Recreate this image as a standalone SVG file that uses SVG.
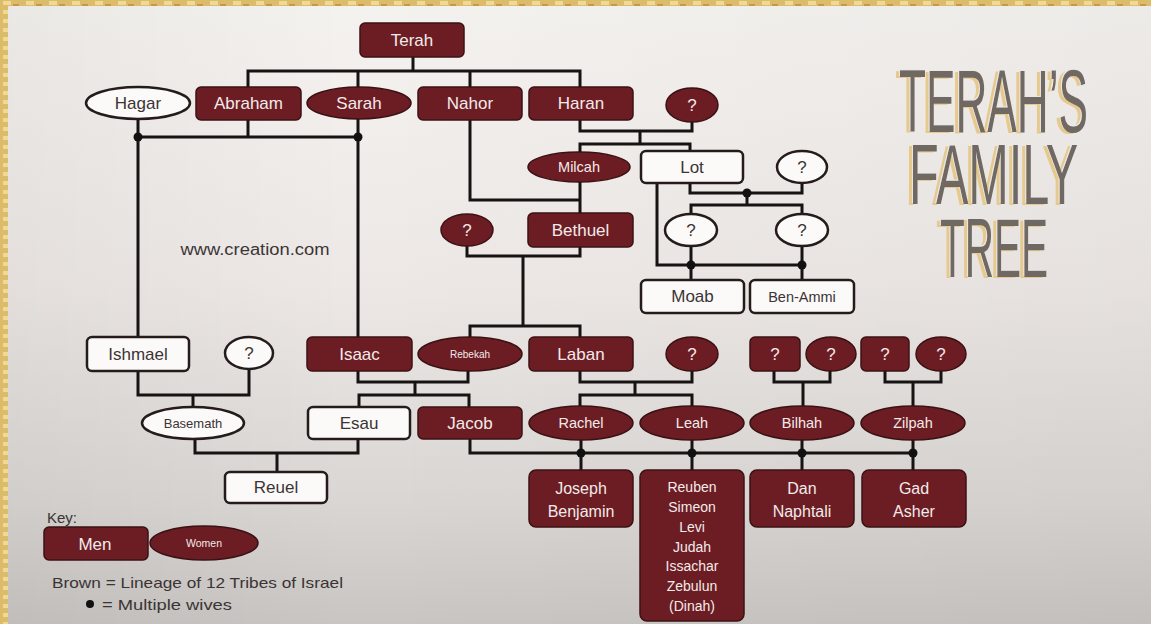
<svg xmlns="http://www.w3.org/2000/svg" width="1151" height="624" viewBox="0 0 1151 624">
<defs>
<pattern id="goldp" width="23" height="9" patternUnits="userSpaceOnUse">
<rect width="23" height="9" fill="#dcbc6a"/><rect x="3" y="1" width="8" height="4" fill="#efd996"/><rect x="13" y="4" width="6" height="4" fill="#c49a44"/>
</pattern>
<linearGradient id="panel" x1="0" y1="0" x2="0" y2="1">
<stop offset="0" stop-color="#f4f2ef"/><stop offset="0.45" stop-color="#ede8e5"/><stop offset="0.8" stop-color="#d9d6d3"/><stop offset="1" stop-color="#c8c5c2"/>
</linearGradient>
<linearGradient id="panelx" x1="0" y1="0" x2="1" y2="0">
<stop offset="0" stop-color="#000" stop-opacity="0.04"/><stop offset="0.3" stop-color="#000" stop-opacity="0"/><stop offset="1" stop-color="#000" stop-opacity="0.03"/>
</linearGradient>
<filter id="deco" x="-10%" y="-20%" width="120%" height="140%">
<feOffset in="SourceAlpha" dx="-4" dy="1" result="o1"/>
<feFlood flood-color="#e6c98c"/>
<feComposite in2="o1" operator="in" result="gold"/>
<feOffset in="SourceAlpha" dx="-1.5" dy="-1" result="o2"/>
<feFlood flood-color="#ebe8e4"/>
<feComposite in2="o2" operator="in" result="light"/>
<feMerge><feMergeNode in="gold"/><feMergeNode in="light"/><feMergeNode in="SourceGraphic"/></feMerge>
</filter>
<style>
.m{fill:#6c1d23;stroke:#3b1214;stroke-width:1.5}
.w{fill:#fbfaf9;stroke:#241c1a;stroke-width:2.5}
.ln path{stroke:#171313;stroke-width:3;fill:none;stroke-linecap:square}
.ln circle{fill:#111}
text{font-family:"Liberation Sans",Arial,sans-serif;text-anchor:middle;dominant-baseline:central}
.tl{fill:#f3eaea;font-size:17px}
.td{fill:#3b3434;font-size:17px}
.s14{font-size:14.5px}
.s13{font-size:13px}
.s10{font-size:10px}
.f16{font-size:16px}
.f14{font-size:14px}
.f11{font-size:10.5px}
.lg{fill:#3a3434;text-anchor:start;font-size:15px}
.ti{text-anchor:start;dominant-baseline:alphabetic;fill:#6f6864;filter:url(#deco)}
</style>
</defs>

<!-- background -->
<rect x="0" y="0" width="1151" height="624" fill="url(#goldp)"/>
<rect x="8" y="6" width="1143" height="618" fill="url(#panel)"/>
<rect x="8" y="6" width="1143" height="618" fill="url(#panelx)"/>

<!-- title -->
<g id="title">
<text class="ti" x="899" y="132" font-size="89" textLength="189" lengthAdjust="spacingAndGlyphs">TERAH’S</text>
<text class="ti" x="909" y="204" font-size="85" textLength="169" lengthAdjust="spacingAndGlyphs">FAMILY</text>
<text class="ti" x="940" y="277" font-size="84" textLength="108" lengthAdjust="spacingAndGlyphs">TREE</text>
</g>

<!-- connectors -->
<g id="connectors" class="ln">
<path d="M413 57V71M248 71H580M248 71V87M358 71V87M470 71V87M580 71V87"/>
<path d="M138 119V337M248 120V137M138 137H358M358 119V337"/>
<path d="M580 120V131H692V122M640 131V144M580 144H690M580 144V152M690 144V151"/>
<path d="M470 120V200H580M580 182V213"/>
<path d="M690 183V193H802V183M747 193V205M691 205H802M691 205V214M802 205V214"/>
<path d="M657 183V265H802M691 246V280M802 246V280"/>
<path d="M467 246V256H580V247M523 256V326M470 326H580M470 326V337M580 326V337"/>
<path d="M138 371V395H249V369M193 395V407"/>
<path d="M358 371V382H468V371M415 382V395M359 395H469M359 395V407M469 395V407"/>
<path d="M195 439V453H358V439M277 453V472"/>
<path d="M580 371V382H692V371M635 382V395M580 395H692M580 395V406M692 395V406"/>
<path d="M774 371V382H830V371M803 382V406"/>
<path d="M885 371V382H941V371M913 382V406"/>
<path d="M470 439V453H913M581 440V470M692 440V470M802 440V470M913 440V470"/>
<circle cx="138" cy="137" r="4.5"/><circle cx="358" cy="137" r="4.5"/>
<circle cx="747" cy="193" r="4.5"/>
<circle cx="691" cy="265" r="4.5"/><circle cx="802" cy="265" r="4.5"/>
<circle cx="581" cy="453" r="4.5"/><circle cx="692" cy="453" r="4.5"/><circle cx="802" cy="453" r="4.5"/><circle cx="913" cy="453" r="4.5"/>
</g>

<!-- nodes -->
<g id="terah"><rect class="m" x="360" y="23" width="104" height="34" rx="5"/><text class="tl" x="412" y="40">Terah</text></g>
<g id="hagar"><ellipse class="w" cx="138" cy="103" rx="52" ry="16"/><text class="td" x="138" y="103">Hagar</text></g>
<g id="abraham"><rect class="m" x="196" y="87" width="105" height="33" rx="5"/><text class="tl" x="248.5" y="103.5">Abraham</text></g>
<g id="sarah"><ellipse class="m" cx="359" cy="103" rx="52" ry="16"/><text class="tl" x="359" y="103">Sarah</text></g>
<g id="nahor"><rect class="m" x="418" y="87" width="104" height="33" rx="5"/><text class="tl" x="470" y="103.5">Nahor</text></g>
<g id="haran"><rect class="m" x="529" y="87" width="104" height="33" rx="5"/><text class="tl" x="581" y="103.5">Haran</text></g>
<g id="haran-wife"><ellipse class="m" cx="692" cy="105" rx="26" ry="17"/><text class="tl" x="692" y="105">?</text></g>
<g id="milcah"><ellipse class="m" cx="579" cy="167" rx="51" ry="15"/><text class="tl s14" x="579" y="167">Milcah</text></g>
<g id="lot"><rect class="w" x="641" y="151" width="102" height="32" rx="5"/><text class="td" x="692" y="167">Lot</text></g>
<g id="lot-wife"><ellipse class="w" cx="802" cy="167" rx="25" ry="16"/><text class="td" x="802" y="167">?</text></g>
<g id="lot-daughter1"><ellipse class="w" cx="691" cy="230" rx="26" ry="16"/><text class="td" x="691" y="230">?</text></g>
<g id="lot-daughter2"><ellipse class="w" cx="802" cy="230" rx="26" ry="16"/><text class="td" x="802" y="230">?</text></g>
<g id="bethuel-wife"><ellipse class="m" cx="467" cy="230" rx="26" ry="16"/><text class="tl" x="467" y="230">?</text></g>
<g id="bethuel"><rect class="m" x="528" y="213" width="105" height="34" rx="5"/><text class="tl" x="580.5" y="230">Bethuel</text></g>
<g id="moab"><rect class="w" x="641" y="280" width="103" height="33" rx="5"/><text class="td" x="692.5" y="296.5">Moab</text></g>
<g id="ben-ammi"><rect class="w" x="750" y="280" width="104" height="33" rx="5"/><text class="td s14" x="802" y="296.5">Ben-Ammi</text></g>
<g id="ishmael"><rect class="w" x="87" y="337" width="102" height="34" rx="5"/><text class="td" x="138" y="354">Ishmael</text></g>
<g id="ishmael-wife"><ellipse class="w" cx="249" cy="353" rx="24" ry="16"/><text class="td" x="249" y="353">?</text></g>
<g id="isaac"><rect class="m" x="307" y="337" width="105" height="34" rx="5"/><text class="tl" x="359.5" y="354">Isaac</text></g>
<g id="rebekah"><ellipse class="m" cx="470" cy="354" rx="52" ry="17"/><text class="tl s10" x="470" y="354">Rebekah</text></g>
<g id="laban"><rect class="m" x="529" y="337" width="104" height="34" rx="5"/><text class="tl" x="581" y="354">Laban</text></g>
<g id="laban-wife"><ellipse class="m" cx="692" cy="354" rx="26" ry="17"/><text class="tl" x="692" y="354">?</text></g>
<g id="bilhah-father"><rect class="m" x="750" y="337" width="50" height="34" rx="5"/><text class="tl" x="775" y="354">?</text></g>
<g id="bilhah-mother"><ellipse class="m" cx="831" cy="354" rx="25" ry="17"/><text class="tl" x="831" y="354">?</text></g>
<g id="zilpah-father"><rect class="m" x="861" y="337" width="48" height="34" rx="5"/><text class="tl" x="885" y="354">?</text></g>
<g id="zilpah-mother"><ellipse class="m" cx="941" cy="354" rx="25" ry="17"/><text class="tl" x="941" y="354">?</text></g>
<g id="basemath"><ellipse class="w" cx="193" cy="423" rx="51" ry="16"/><text class="td s13" x="193" y="423">Basemath</text></g>
<g id="esau"><rect class="w" x="308" y="407" width="102" height="32" rx="5"/><text class="td" x="359" y="423">Esau</text></g>
<g id="jacob"><rect class="m" x="418" y="407" width="104" height="32" rx="5"/><text class="tl" x="470" y="423">Jacob</text></g>
<g id="rachel"><ellipse class="m" cx="581" cy="423" rx="52" ry="17"/><text class="tl s14" x="581" y="423">Rachel</text></g>
<g id="leah"><ellipse class="m" cx="692" cy="423" rx="52" ry="17"/><text class="tl s14" x="692" y="423">Leah</text></g>
<g id="bilhah"><ellipse class="m" cx="802" cy="423" rx="52" ry="17"/><text class="tl s14" x="802" y="423">Bilhah</text></g>
<g id="zilpah"><ellipse class="m" cx="913" cy="423" rx="52" ry="17"/><text class="tl s14" x="913" y="423">Zilpah</text></g>
<g id="reuel"><rect class="w" x="225" y="472" width="102" height="31" rx="5"/><text class="td" x="276" y="487.5">Reuel</text></g>
<g id="joseph-benjamin"><rect class="m" x="529" y="470" width="104" height="57" rx="7"/><text class="tl f16" x="581" y="488">Joseph</text><text class="tl f16" x="581" y="511">Benjamin</text></g>
<g id="leah-children"><rect class="m" x="640" y="470" width="104" height="151" rx="7"/>
<text class="tl f14" x="692" y="487">Reuben</text><text class="tl f14" x="692" y="507">Simeon</text><text class="tl f14" x="692" y="527">Levi</text><text class="tl f14" x="692" y="547">Judah</text><text class="tl f14" x="692" y="566">Issachar</text><text class="tl f14" x="692" y="586">Zebulun</text><text class="tl f14" x="692" y="606">(Dinah)</text></g>
<g id="dan-naphtali"><rect class="m" x="750" y="470" width="104" height="57" rx="7"/><text class="tl f16" x="802" y="488">Dan</text><text class="tl f16" x="802" y="511">Naphtali</text></g>
<g id="gad-asher"><rect class="m" x="862" y="470" width="104" height="57" rx="7"/><text class="tl f16" x="914" y="488">Gad</text><text class="tl f16" x="914" y="511">Asher</text></g>

<!-- watermark -->
<text x="255" y="249" font-size="16" fill="#3a3535" textLength="149" lengthAdjust="spacingAndGlyphs">www.creation.com</text>

<!-- key -->
<g id="key">
<text class="lg" x="47" y="517">Key:</text>
<rect class="m" x="44" y="527" width="104" height="33" rx="5"/>
<text class="tl" x="95" y="544">Men</text>
<ellipse class="m" cx="204" cy="543" rx="54" ry="17"/>
<text class="tl f11" x="204" y="543">Women</text>
<text class="lg" x="52" y="582" textLength="291" lengthAdjust="spacingAndGlyphs">Brown = Lineage of 12 Tribes of Israel</text>
<circle cx="90" cy="604" r="4" fill="#111"/>
<text class="lg" x="102" y="604" textLength="130" lengthAdjust="spacingAndGlyphs">= Multiple wives</text>
</g>
</svg>
